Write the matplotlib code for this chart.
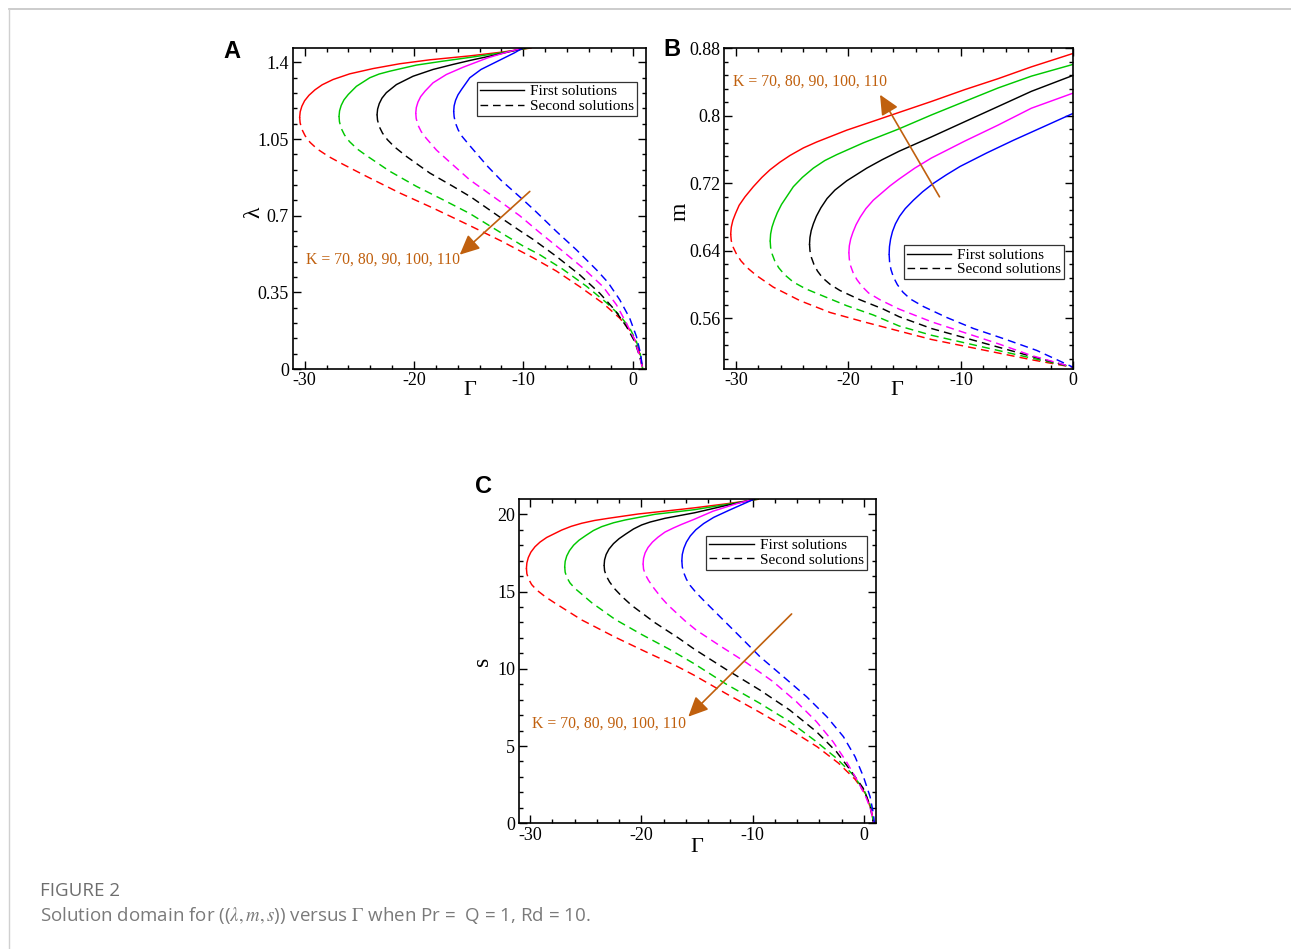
import matplotlib
matplotlib.use("Agg")
import matplotlib.pyplot as plt
from matplotlib.lines import Line2D
from matplotlib.ticker import MultipleLocator

plt.rcParams['font.family'] = ['Liberation Serif', 'DejaVu Serif']
plt.rcParams['axes.unicode_minus'] = False

# K values and line colours
K_VALUES = [70, 80, 90, 100, 110]
COLORS = ['#ff0000', '#00c800', '#000000', '#ff00ff', '#0000ff']

# ---- panel A : lambda vs Gamma, (Gamma, lambda) pairs
A_K70_FIRST = [(-30.46, 1.15), (-30.41, 1.175), (-30.26, 1.20), (-30.01, 1.225), (-29.61, 1.25),
               (-29.06, 1.275), (-28.4, 1.298), (-27.41, 1.322), (-25.88, 1.348), (-23.75, 1.372),
               (-21.31, 1.394), (-18.56, 1.412), (-14.9, 1.430), (-12.0, 1.447), (-9.3, 1.466)]
A_K70_SECOND = [(-30.46, 1.15), (-30.42, 1.125), (-30.26, 1.095), (-29.96, 1.065), (-29.51, 1.035),
                (-28.86, 1.005), (-27.8, 0.97), (-26.5, 0.935), (-24.36, 0.880), (-21.31, 0.804),
                (-18.26, 0.735), (-14.9, 0.655), (-12.04, 0.585), (-10.33, 0.54), (-9.11, 0.508),
                (-6.97, 0.447), (-4.84, 0.376), (-2.71, 0.30), (-1.18, 0.232), (-0.27, 0.178),
                (0.35, 0.118), (0.71, 0.06), (0.92, 0.0)]
A_K80_FIRST = [(-26.86, 1.154), (-26.81, 1.179), (-26.66, 1.204), (-26.41, 1.229), (-26.01, 1.254),
               (-25.27, 1.291), (-24.05, 1.330), (-23.2, 1.347), (-22.22, 1.36), (-19.78, 1.388),
               (-17.35, 1.406), (-14.9, 1.423), (-12.3, 1.442), (-9.5, 1.466)]
A_K80_SECOND = [(-26.86, 1.154), (-26.82, 1.129), (-26.66, 1.099), (-26.36, 1.069), (-25.91, 1.039),
                (-25.2, 1.005), (-24.36, 0.975), (-22.22, 0.903), (-19.78, 0.834), (-17.35, 0.773),
                (-14.9, 0.71), (-12.04, 0.622), (-10.03, 0.562), (-8.5, 0.522), (-6.37, 0.455),
                (-4.23, 0.378), (-2.4, 0.303), (-1.18, 0.245), (-0.27, 0.187), (0.35, 0.125),
                (0.71, 0.065), (0.92, 0.0)]
A_K90_FIRST = [(-23.38, 1.162), (-23.33, 1.187), (-23.18, 1.212), (-22.93, 1.237), (-22.53, 1.262),
               (-21.61, 1.299), (-20.09, 1.337), (-18.26, 1.368), (-16.43, 1.391), (-14.9, 1.409),
               (-12.5, 1.435), (-9.8, 1.466)]
A_K90_SECOND = [(-23.38, 1.162), (-23.34, 1.137), (-23.18, 1.107), (-22.88, 1.077), (-22.43, 1.047),
                (-21.8, 1.015), (-20.7, 0.971), (-18.56, 0.895), (-16.43, 0.834), (-14.78, 0.785),
                (-12.04, 0.69), (-10.33, 0.632), (-9.11, 0.592), (-6.97, 0.514), (-4.84, 0.430),
                (-3.01, 0.346), (-1.64, 0.270), (-0.57, 0.194), (0.19, 0.125), (0.65, 0.056), (0.92, 0.0)]
A_K100_FIRST = [(-19.84, 1.169), (-19.79, 1.194), (-19.64, 1.219), (-19.39, 1.244), (-18.99, 1.269),
                (-18.26, 1.307), (-17.04, 1.345), (-15.52, 1.378), (-13.26, 1.421), (-11.43, 1.448),
                (-10.0, 1.466)]
A_K100_SECOND = [(-19.84, 1.169), (-19.8, 1.144), (-19.64, 1.114), (-19.34, 1.084), (-18.89, 1.054),
                 (-17.95, 1.0), (-16.73, 0.945), (-14.93, 0.865), (-12.04, 0.762), (-10.33, 0.70),
                 (-8.5, 0.623), (-6.37, 0.537), (-4.54, 0.461), (-2.71, 0.376), (-1.48, 0.293),
                 (-0.57, 0.209), (0.19, 0.133), (0.65, 0.056), (0.92, 0.0)]
A_K110_FIRST = [(-16.37, 1.177), (-16.33, 1.202), (-16.2, 1.227), (-15.98, 1.252), (-15.65, 1.277),
                (-14.9, 1.330), (-13.87, 1.368), (-12.34, 1.406), (-10.81, 1.444), (-10.05, 1.466)]
A_K110_SECOND = [(-16.37, 1.177), (-16.33, 1.152), (-16.2, 1.122), (-15.96, 1.092), (-15.6, 1.062),
                 (-14.9, 1.02), (-13.26, 0.925), (-12.04, 0.862), (-10.03, 0.773), (-8.96, 0.724),
                 (-6.97, 0.628), (-5.14, 0.544), (-3.31, 0.453), (-2.25, 0.395), (-1.18, 0.316),
                 (-0.27, 0.232), (0.35, 0.148), (0.71, 0.072), (0.92, 0.0)]

# ---- panel B : m vs Gamma
B_K70_FIRST = [(-30.47, 0.66), (-30.42, 0.668), (-30.28, 0.676), (-30.05, 0.684), (-29.72, 0.694),
               (-29.2, 0.704), (-28.46, 0.716), (-27.7, 0.727), (-26.98, 0.736), (-26.1, 0.745),
               (-25.2, 0.753), (-24.0, 0.762), (-22.82, 0.769), (-20.15, 0.783), (-17.48, 0.795),
               (-15.5, 0.804), (-12.62, 0.817), (-9.66, 0.831), (-6.69, 0.844), (-3.73, 0.858),
               (0.0, 0.874)]
B_K70_SECOND = [(-30.47, 0.66), (-30.42, 0.652), (-30.24, 0.644), (-29.95, 0.636), (-29.55, 0.628),
                (-29.0, 0.62), (-28.2, 0.611), (-26.68, 0.597), (-24.31, 0.581), (-21.64, 0.567),
                (-18.67, 0.556), (-15.5, 0.545), (-12.62, 0.535), (-9.66, 0.527), (-6.69, 0.519),
                (-3.73, 0.511), (0.0, 0.502)]
B_K80_FIRST = [(-26.96, 0.652), (-26.92, 0.66), (-26.8, 0.668), (-26.6, 0.676), (-26.33, 0.685),
               (-25.95, 0.695), (-25.45, 0.705), (-24.9, 0.716), (-24.1, 0.727), (-23.12, 0.738),
               (-22.1, 0.747), (-21.04, 0.754), (-18.67, 0.768), (-15.6, 0.784), (-12.62, 0.801),
               (-9.66, 0.817), (-6.69, 0.833), (-3.73, 0.847), (0.0, 0.861)]
B_K80_SECOND = [(-26.96, 0.652), (-26.92, 0.644), (-26.78, 0.636), (-26.55, 0.628), (-26.2, 0.62),
                (-25.7, 0.612), (-24.9, 0.603), (-23.8, 0.595), (-22.53, 0.588), (-20.15, 0.575),
                (-17.79, 0.564), (-15.5, 0.551), (-12.62, 0.540), (-9.66, 0.531), (-6.69, 0.522),
                (-3.73, 0.513), (0.0, 0.502)]
B_K90_FIRST = [(-23.46, 0.648), (-23.42, 0.656), (-23.31, 0.664), (-23.12, 0.672), (-22.85, 0.681),
               (-22.45, 0.691), (-21.9, 0.702), (-21.2, 0.712), (-20.15, 0.723), (-19.2, 0.731),
               (-18.37, 0.738), (-17.0, 0.748), (-15.5, 0.758), (-12.62, 0.775), (-9.66, 0.793),
               (-6.69, 0.811), (-3.73, 0.829), (0.0, 0.848)]
B_K90_SECOND = [(-23.46, 0.648), (-23.42, 0.64), (-23.29, 0.632), (-23.07, 0.624), (-22.75, 0.616),
                (-22.3, 0.608), (-21.6, 0.60), (-20.75, 0.593), (-18.97, 0.582), (-16.9, 0.571),
                (-15.5, 0.562), (-12.62, 0.548), (-9.66, 0.537), (-6.69, 0.526), (-3.73, 0.515),
                (0.0, 0.502)]
B_K100_FIRST = [(-19.96, 0.638), (-19.92, 0.646), (-19.8, 0.654), (-19.6, 0.662), (-19.32, 0.671),
                (-18.95, 0.68), (-18.45, 0.69), (-17.79, 0.70), (-17.0, 0.709), (-16.3, 0.717),
                (-15.5, 0.725), (-14.1, 0.738), (-12.62, 0.750), (-9.66, 0.770), (-6.69, 0.789),
                (-3.73, 0.809), (0.0, 0.827)]
B_K100_SECOND = [(-19.96, 0.638), (-19.92, 0.63), (-19.8, 0.622), (-19.58, 0.614), (-19.25, 0.606),
                 (-18.8, 0.598), (-18.2, 0.59), (-17.19, 0.582), (-15.5, 0.571), (-12.62, 0.556),
                 (-9.66, 0.543), (-6.69, 0.530), (-3.73, 0.516), (0.0, 0.502)]
B_K110_FIRST = [(-16.38, 0.636), (-16.35, 0.645), (-16.25, 0.654), (-16.08, 0.663), (-15.82, 0.672),
                (-15.45, 0.681), (-14.95, 0.69), (-14.22, 0.70), (-13.4, 0.71), (-12.44, 0.72),
                (-11.3, 0.73), (-10.07, 0.740), (-7.7, 0.756), (-5.33, 0.771), (-2.66, 0.787),
                (0.0, 0.803)]
B_K110_SECOND = [(-16.38, 0.636), (-16.34, 0.627), (-16.22, 0.618), (-16.0, 0.609), (-15.65, 0.60),
                 (-15.15, 0.591), (-14.5, 0.583), (-13.33, 0.574), (-11.25, 0.561), (-8.88, 0.548),
                 (-6.21, 0.536), (-3.25, 0.522), (0.0, 0.502)]

# ---- panel C : s vs Gamma
C_K70_FIRST = [(-30.32, 16.5), (-30.28, 16.85), (-30.15, 17.2), (-29.92, 17.55), (-29.55, 17.9),
               (-29.1, 18.2), (-28.5, 18.5), (-27.15, 18.98), (-26.3, 19.22), (-25.35, 19.42),
               (-24.2, 19.6), (-22.96, 19.74), (-20.27, 20.02), (-17.57, 20.23), (-15.2, 20.42),
               (-12.36, 20.68), (-9.5, 20.97)]
C_K70_SECOND = [(-30.32, 16.5), (-30.28, 16.15), (-30.12, 15.8), (-29.85, 15.45), (-29.4, 15.1),
                (-28.6, 14.65), (-27.75, 14.25), (-25.35, 13.16), (-22.36, 12.05), (-19.6, 11.1),
                (-16.9, 10.2), (-15.3, 9.6), (-12.4, 8.4), (-9.4, 7.2), (-6.4, 5.95), (-4.2, 4.95),
                (-2.3, 3.9), (-0.8, 2.85), (0.15, 1.9), (0.68, 0.8), (0.85, 0.0)]
C_K80_FIRST = [(-26.88, 16.6), (-26.84, 16.95), (-26.7, 17.3), (-26.45, 17.65), (-26.08, 18.0),
               (-25.6, 18.32), (-25.0, 18.62), (-24.3, 18.95), (-23.56, 19.2), (-22.5, 19.45),
               (-21.46, 19.63), (-18.77, 20.0), (-15.2, 20.3), (-12.5, 20.62), (-9.6, 20.97)]
C_K80_SECOND = [(-26.88, 16.6), (-26.84, 16.25), (-26.68, 15.9), (-26.4, 15.55), (-25.96, 15.2),
                (-25.3, 14.8), (-24.46, 14.28), (-22.36, 13.2), (-19.97, 12.22), (-17.57, 11.3),
                (-15.3, 10.35), (-12.36, 9.0), (-9.36, 7.77), (-6.67, 6.58), (-4.27, 5.28),
                (-2.47, 4.21), (-0.97, 3.13), (0.07, 2.05), (0.67, 0.97), (0.85, 0.0)]
C_K90_FIRST = [(-23.34, 16.7), (-23.3, 17.05), (-23.16, 17.4), (-22.9, 17.75), (-22.5, 18.1),
               (-22.0, 18.42), (-21.4, 18.72), (-20.7, 19.05), (-19.97, 19.31), (-19.2, 19.5),
               (-17.87, 19.74), (-15.2, 20.1), (-12.5, 20.55), (-9.8, 20.97)]
C_K90_SECOND = [(-23.34, 16.7), (-23.3, 16.35), (-23.14, 16.0), (-22.85, 15.62), (-22.36, 15.15),
                (-21.7, 14.65), (-20.86, 14.1), (-18.77, 12.98), (-16.68, 12.0), (-15.3, 11.3),
                (-12.36, 9.95), (-9.36, 8.63), (-6.67, 7.33), (-4.27, 5.93), (-2.47, 4.63),
                (-1.12, 3.34), (-0.07, 2.27), (0.53, 1.18), (0.85, 0.0)]
C_K100_FIRST = [(-19.84, 16.8), (-19.8, 17.15), (-19.66, 17.5), (-19.4, 17.85), (-19.0, 18.2),
                (-18.5, 18.52), (-17.87, 18.85), (-17.1, 19.12), (-16.37, 19.35), (-15.3, 19.66),
                (-13.56, 20.2), (-11.46, 20.68), (-9.96, 20.97)]
C_K100_SECOND = [(-19.84, 16.8), (-19.8, 16.45), (-19.64, 16.1), (-19.35, 15.72), (-18.85, 15.2),
                 (-18.2, 14.6), (-17.57, 14.1), (-16.07, 13.1), (-15.06, 12.5), (-12.96, 11.5),
                 (-10.57, 10.4), (-8.17, 9.17), (-6.07, 7.87), (-4.27, 6.58), (-2.78, 5.28),
                 (-1.58, 3.99), (-0.53, 2.69), (0.22, 1.62), (0.67, 0.75), (0.85, 0.0)]
C_K110_FIRST = [(-16.36, 17.0), (-16.32, 17.4), (-16.18, 17.8), (-15.95, 18.2), (-15.6, 18.6),
                (-15.1, 19.0), (-14.4, 19.4), (-13.5, 19.8), (-12.06, 20.28), (-9.96, 20.95)]
C_K110_SECOND = [(-16.36, 17.0), (-16.32, 16.6), (-16.18, 16.2), (-15.95, 15.8), (-15.62, 15.4),
                 (-15.1, 14.95), (-14.43, 14.45), (-12.93, 13.37), (-11.13, 12.08), (-9.34, 10.78),
                 (-7.24, 9.49), (-5.15, 8.19), (-3.34, 6.9), (-1.85, 5.61), (-0.8, 4.31),
                 (-0.05, 3.02), (0.55, 1.72), (0.84, 0.65), (0.94, 0.0)]

X_TICKS = [-30, -20, -10, 0]
X_TICKLABELS = ['-30', '-20', '-10', '0']
A_YTICKS = [0, 0.35, 0.7, 1.05, 1.4]
A_YTICKLABELS = ['0', '0.35', '0.7', '1.05', '1.4']
B_YTICKS = [0.56, 0.64, 0.72, 0.8, 0.88]
B_YTICKLABELS = ['0.56', '0.64', '0.72', '0.8', '0.88']
C_YTICKS = [0, 5, 10, 15, 20]
C_YTICKLABELS = ['0', '5', '10', '15', '20']

K_TEXT = 'K = 70, 80, 90, 100, 110'
ARROW_COLOR = '#c0600e'
DASH = (0, (5.5, 3.5))

fig = plt.figure(figsize=(12.91, 9.49), dpi=100)
W, H = 1291, 949


def px_axes(left, top, right, bottom):
    return fig.add_axes([left / W, 1 - bottom / H, (right - left) / W, (bottom - top) / H])


def draw_panel(ax, first, second, xlim, ylim, yticks, yticklabels, yminor):
    for f, s, c in zip(first, second, COLORS):
        ax.plot([p[0] for p in f], [p[1] for p in f], color=c, lw=1.05)
        ax.plot([p[0] for p in s], [p[1] for p in s], color=c, lw=1.05, linestyle=DASH)
    ax.set_xlim(*xlim)
    ax.set_ylim(*ylim)
    ax.set_xticks(X_TICKS, X_TICKLABELS)
    ax.set_yticks(yticks, yticklabels)
    ax.xaxis.set_minor_locator(MultipleLocator(2))
    ax.yaxis.set_minor_locator(MultipleLocator(yminor))
    ax.tick_params(which='both', direction='in', top=True, right=True, labelsize=13, width=1.0)
    ax.tick_params(which='major', length=5.5)
    ax.tick_params(which='minor', length=3)
    ax.tick_params(axis='x', pad=2.5)
    ax.tick_params(axis='y', pad=3)
    for sp in ax.spines.values():
        sp.set_linewidth(1.2)


def add_legend(ax, right, top):
    handles = [Line2D([], [], color='k', lw=1.0),
               Line2D([], [], color='k', lw=1.0, linestyle=DASH)]
    leg = ax.legend(handles, ['First solutions', 'Second solutions'], loc='upper right',
                    bbox_to_anchor=(right, top), fontsize=11, frameon=True, fancybox=False,
                    borderpad=0.2, labelspacing=0.05, handlelength=2.9, handletextpad=0.4,
                    borderaxespad=0)
    leg.get_frame().set_edgecolor('k')
    leg.get_frame().set_linewidth(0.9)


def add_arrow(ax, tail, head, text_xy):
    ax.annotate('', xy=head, xytext=tail,
                arrowprops=dict(arrowstyle='-|>,head_length=0.6,head_width=0.28', color=ARROW_COLOR,
                                lw=1.2, mutation_scale=20, shrinkA=0, shrinkB=0))
    ax.text(text_xy[0], text_xy[1], K_TEXT, color=ARROW_COLOR, fontsize=11.3, ha='left', va='center')


# panel A
axA = px_axes(293, 48, 646, 369)
draw_panel(axA, [A_K70_FIRST, A_K80_FIRST, A_K90_FIRST, A_K100_FIRST, A_K110_FIRST],
           [A_K70_SECOND, A_K80_SECOND, A_K90_SECOND, A_K100_SECOND, A_K110_SECOND],
           (-31.07, 1.22), (0, 1.466), A_YTICKS, A_YTICKLABELS, 0.07)
add_legend(axA, 0.975, 0.895)
add_arrow(axA, (-9.41, 0.811), (-15.82, 0.522), (-29.85, 0.50))
axA.text(0.5, -0.068, 'Γ', transform=axA.transAxes, fontsize=16, ha='center', va='center')
axA.text(-0.11, 0.489, 'λ', transform=axA.transAxes, fontsize=17, ha='center', va='center', rotation=90)
fig.text(232 / W, 1 - 51 / H, 'A', family='Liberation Sans', weight='bold', fontsize=17, ha='center', va='center')

# panel B
axB = px_axes(724.3, 48.3, 1073.3, 369)
draw_panel(axB, [B_K70_FIRST, B_K80_FIRST, B_K90_FIRST, B_K100_FIRST, B_K110_FIRST],
           [B_K70_SECOND, B_K80_SECOND, B_K90_SECOND, B_K100_SECOND, B_K110_SECOND],
           (-31.04, 0), (0.50, 0.88), B_YTICKS, B_YTICKLABELS, 0.016)
add_legend(axB, 0.974, 0.386)
add_arrow(axB, (-11.9, 0.704), (-17.19, 0.825), (-30.24, 0.840))
axB.text(0.495, -0.068, 'Γ', transform=axB.transAxes, fontsize=16, ha='center', va='center')
axB.text(-0.128, 0.49, 'm', transform=axB.transAxes, fontsize=17, ha='center', va='center', rotation=90)
fig.text(672 / W, 1 - 50 / H, 'B', family='Liberation Sans', weight='bold', fontsize=17, ha='center', va='center')

# panel C
axC = px_axes(519.3, 499.3, 876, 823.3)
draw_panel(axC, [C_K70_FIRST, C_K80_FIRST, C_K90_FIRST, C_K100_FIRST, C_K110_FIRST],
           [C_K70_SECOND, C_K80_SECOND, C_K90_SECOND, C_K100_SECOND, C_K110_SECOND],
           (-30.96, 1.08), (0, 20.97), C_YTICKS, C_YTICKLABELS, 1)
add_legend(axC, 0.974, 0.888)
add_arrow(axC, (-6.5, 13.55), (-15.78, 6.9), (-29.85, 6.47))
axC.text(0.497, -0.075, 'Γ', transform=axC.transAxes, fontsize=16, ha='center', va='center')
axC.text(-0.103, 0.499, 's', transform=axC.transAxes, fontsize=17, ha='center', va='center', rotation=90)
fig.text(483 / W, 1 - 487 / H, 'C', family='Liberation Sans', weight='bold', fontsize=17, ha='center', va='center')

# page frame lines
fig.add_artist(Line2D([8.5 / W, 1], [1 - 8.5 / H, 1 - 8.5 / H], transform=fig.transFigure, color='#c4c4c4', lw=1.2))
fig.add_artist(Line2D([8.5 / W, 8.5 / W], [0, 1 - 8.5 / H], transform=fig.transFigure, color='#d0d0d0', lw=1.0))

# caption
fig.text(40 / W, 1 - 891 / H, 'FIGURE 2', family='Open Sans', fontsize=13.5,
         color='#6e6e6e', ha='left', va='center')
fig.text(40 / W, 1 - 915 / H, r'Solution domain for (($\lambda,m,s$)) versus $\Gamma$ when Pr =  Q = 1, Rd = 10.',
         family='Open Sans', fontsize=13.5, color='#7a7a7a', ha='left', va='center', math_fontfamily='stix')

fig.savefig('out.png', dpi=100)
